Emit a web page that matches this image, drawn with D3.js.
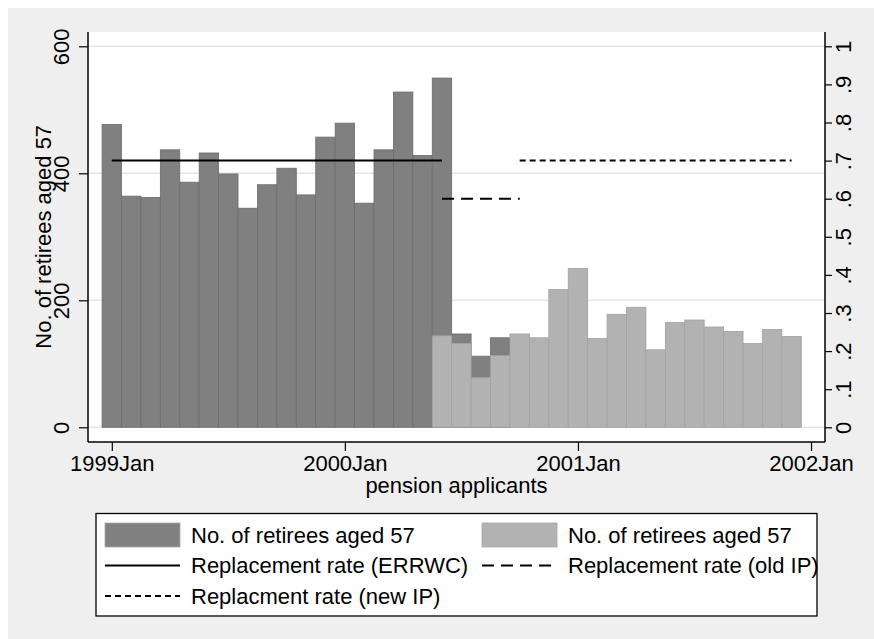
<!DOCTYPE html>
<html>
<head>
<meta charset="utf-8">
<script src="https://cdn.jsdelivr.net/npm/d3@7"></script>
<style>
	body { margin: 0; background: #fff; }
	svg text { font-family: "Liberation Sans", Arial, Helvetica, sans-serif; font-size: 22px; fill: #000; }
</style>
</head>
<body>
<div id="chart"></div>
<script>
// monthly counts, first dark bar = 1999Jan (month 0), first light bar = 2000Jun (month 17)
var darkStart = 0;
var darkValues = [477, 364, 362, 437, 386, 432, 399, 345, 382, 408, 366, 457,
	479, 353, 437, 528, 428, 550, 147, 112, 141];
var lightStart = 17;
var lightValues = [144, 132, 78, 113, 147, 141, 217,
	250, 140, 178, 189, 122, 165, 169, 158, 151, 132, 154, 143];

// replacement rates: [month, rate] end points
var rateErrwc = [[0, 0.7], [17, 0.7]];
var rateOldIp = [[17, 0.6], [21, 0.6]];
var rateNewIp = [[21, 0.7], [35, 0.7]];

var xTicks = [0, 12, 24, 36];
var xTickLabels = ["1999Jan", "2000Jan", "2001Jan", "2002Jan"];
var yTicks = [0, 200, 400, 600];
var y2Ticks = [0, .1, .2, .3, .4, .5, .6, .7, .8, .9, 1];

var legendLabels = ["No. of retirees aged 57", "No. of retirees aged 57",
	"Replacement rate (ERRWC)", "Replacement rate (old IP)", "Replacment rate (new IP)"];

var W = 874, H = 639;
var plot = {left: 88, right: 825, top: 32, bottom: 442};

var svg = d3.select("#chart").append("svg")
	.attr("width", W)
	.attr("height", H);

svg.append("rect").attr("x", 8).attr("y", 8).attr("width", W - 8).attr("height", H - 8)
	.attr("fill", "#efefef");
svg.append("rect")
	.attr("x", plot.left).attr("y", plot.top)
	.attr("width", plot.right - plot.left).attr("height", plot.bottom - plot.top)
	.attr("fill", "#fff");

var x = d3.scaleLinear().domain([-1.225, 36.72]).range([plot.left, plot.right]);
var y = d3.scaleLinear().domain([0, 600]).range([427.3, 46.3]);
var y2 = d3.scaleLinear().domain([0, 1]).range([427.3, 46.3]);
var bw = x(1) - x(0);

// grid
svg.append("g").selectAll("line")
	.data(yTicks)
	.enter().append("line")
	.attr("x1", plot.left).attr("x2", plot.right)
	.attr("y1", function(d){ return y(d); })
	.attr("y2", function(d){ return y(d); })
	.attr("stroke", "#e6e6e6")
	.attr("stroke-width", 1.5);

// bars
function drawBars(values, start, fill, edge){
	svg.append("g").selectAll("rect")
		.data(values)
		.enter().append("rect")
		.attr("x", function(d, i){ return x(start + i) - bw / 2; })
		.attr("width", bw)
		.attr("y", function(d){ return y(d); })
		.attr("height", function(d){ return y(0) - y(d); })
		.attr("fill", fill)
		.attr("stroke", edge)
		.attr("stroke-width", 0.8);
}
drawBars(darkValues, darkStart, "#808080", "#6c6c6c");
drawBars(lightValues, lightStart, "#b2b2b2", "#a2a2a2");

// rate lines
var rateLine = d3.line()
	.x(function(d){ return x(d[0]); })
	.y(function(d){ return y2(d[1]); });

function drawRate(data, dash){
	svg.append("path")
		.datum(data)
		.attr("d", rateLine)
		.attr("fill", "none")
		.attr("stroke", "#000")
		.attr("stroke-width", 2)
		.attr("stroke-dasharray", dash);
}
drawRate(rateErrwc, null);
drawRate(rateOldIp, "12,7");
drawRate(rateNewIp, "6,4");

// axes
var axisL = svg.append("g")
	.attr("transform", "translate(" + plot.left + ",0)")
	.call(d3.axisLeft(y).tickValues(yTicks).tickSize(9).tickSizeOuter(0));
axisL.select(".domain").remove();
axisL.selectAll("text")
	.attr("x", 0).attr("dy", 0)
	.attr("text-anchor", "middle")
	.attr("transform", "translate(-19,0) rotate(-90)");

var fmt2 = function(d){
	if (d === 0) return "0";
	if (d === 1) return "1";
	return d3.format(".1f")(d).replace(/^0/, "");
};
var axisR = svg.append("g")
	.attr("transform", "translate(" + plot.right + ",0)")
	.call(d3.axisRight(y2).tickValues(y2Ticks).tickFormat(fmt2).tickSize(7).tickSizeOuter(0));
axisR.select(".domain").remove();
axisR.selectAll("text")
	.attr("x", 0).attr("dy", 0)
	.attr("text-anchor", "middle")
	.attr("transform", "translate(26,0) rotate(-90)");

var axisB = svg.append("g")
	.attr("transform", "translate(0," + plot.bottom + ")")
	.call(d3.axisBottom(x).tickValues(xTicks)
		.tickFormat(function(d, i){ return xTickLabels[i]; })
		.tickSize(9).tickSizeOuter(0));
axisB.select(".domain").remove();
axisB.selectAll("text").attr("y", 29).attr("dy", 0);

svg.selectAll(".tick line").attr("stroke", "#000").attr("stroke-width", 1.2);
svg.selectAll(".tick text").style("font-size", "22px");

var frame = svg.append("g").attr("stroke", "#000").attr("stroke-width", 1.5);
frame.append("line").attr("x1", plot.left).attr("x2", plot.left).attr("y1", plot.top).attr("y2", plot.bottom);
frame.append("line").attr("x1", plot.right).attr("x2", plot.right).attr("y1", plot.top).attr("y2", plot.bottom);
frame.append("line").attr("x1", plot.left).attr("x2", plot.right).attr("y1", plot.bottom).attr("y2", plot.bottom);

// titles
svg.append("text")
	.attr("transform", "translate(51," + ((y(0) + y(600)) / 2) + ") rotate(-90)")
	.attr("text-anchor", "middle")
	.text("No. of retirees aged 57");
svg.append("text")
	.attr("x", (plot.left + plot.right) / 2)
	.attr("y", 493)
	.attr("text-anchor", "middle")
	.text("pension applicants");

// legend
var lg = svg.append("g");
lg.append("rect")
	.attr("x", 96).attr("y", 513.5).attr("width", 721).attr("height", 102.5)
	.attr("fill", "#fff").attr("stroke", "#000").attr("stroke-width", 1.3);

var rows = [535, 565.5, 596];
var cols = [105, 482];
var keyW = 75;
var items = [
	{col: 0, row: 0, type: "bar", fill: "#808080"},
	{col: 1, row: 0, type: "bar", fill: "#b2b2b2"},
	{col: 0, row: 1, type: "line", dash: null},
	{col: 1, row: 1, type: "line", dash: "12,7"},
	{col: 0, row: 2, type: "line", dash: "6,4"}
];
items.forEach(function(it, i){
	var kx = cols[it.col], ky = rows[it.row];
	if (it.type === "bar") {
		lg.append("rect")
			.attr("x", kx).attr("y", ky - 12).attr("width", keyW).attr("height", 24)
			.attr("fill", it.fill).attr("stroke", "#a8a8a8").attr("stroke-width", 0.8);
	} else {
		lg.append("line")
			.attr("x1", kx).attr("x2", kx + keyW)
			.attr("y1", ky).attr("y2", ky)
			.attr("stroke", "#000").attr("stroke-width", 2)
			.attr("stroke-dasharray", it.dash);
	}
	lg.append("text")
		.attr("x", kx + keyW + 11)
		.attr("y", ky + 7.5)
		.text(legendLabels[i]);
});
</script>
</body>
</html>
